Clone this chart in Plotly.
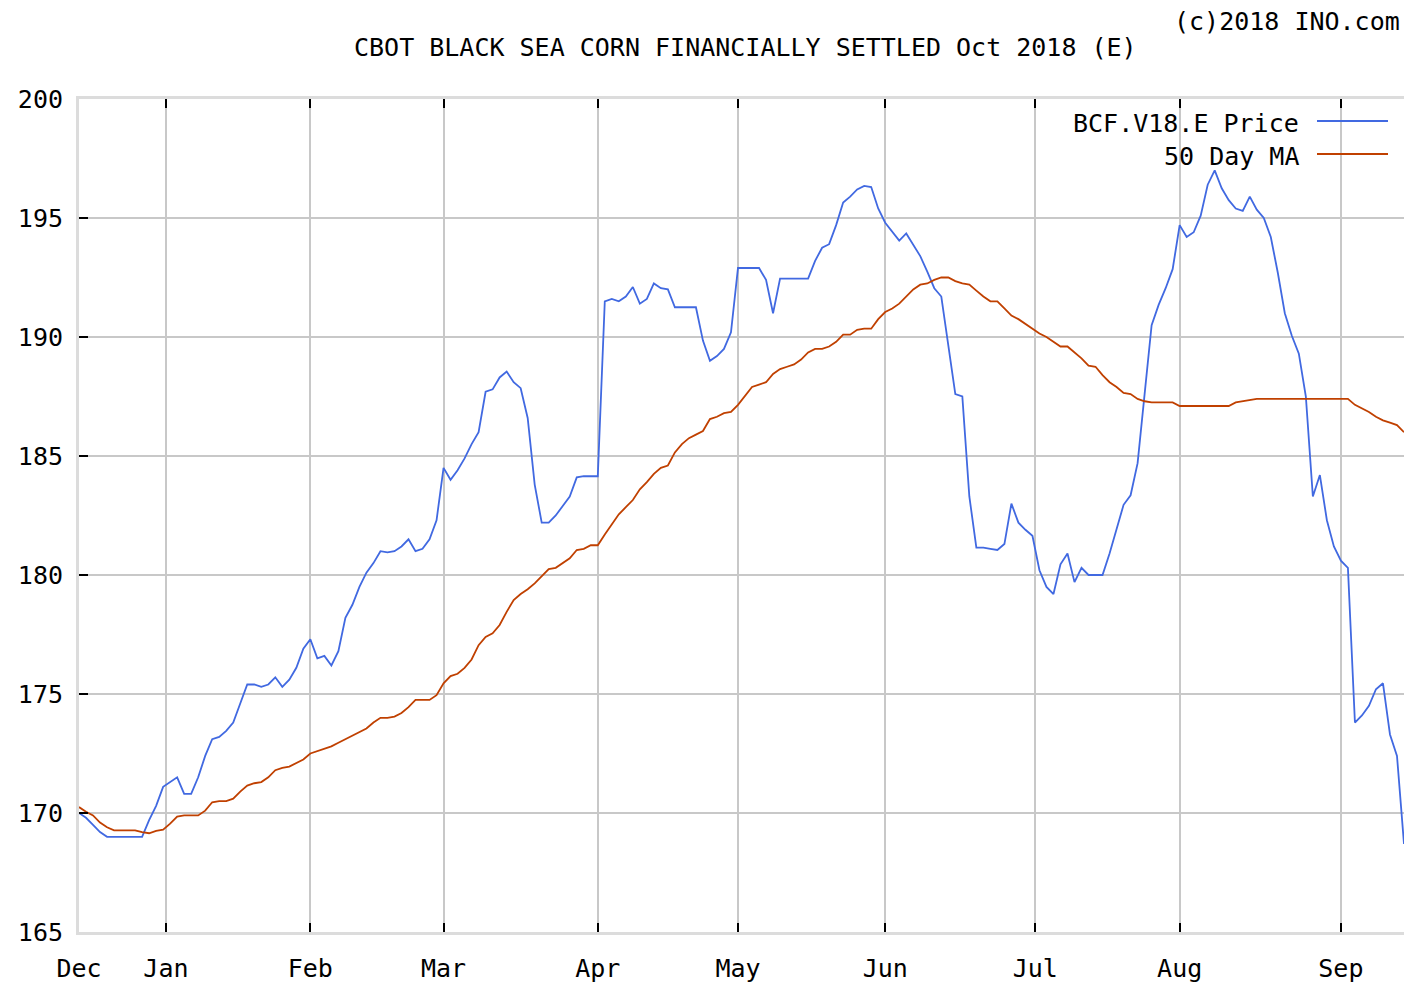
import plotly.graph_objects as go

# Daily settlement prices (trading-day index)
price = [
    170.0, 169.8, 169.5, 169.2, 169.0, 169.0, 169.0, 169.0, 169.0, 169.0,
    169.7, 170.3, 171.1, 171.3, 171.5, 170.8, 170.8, 171.5, 172.4, 173.1,
    173.2, 173.45, 173.8, 174.6, 175.4, 175.4, 175.3, 175.4, 175.7, 175.3,
    175.6, 176.1, 176.9, 177.3, 176.5, 176.6, 176.2, 176.8, 178.2, 178.75,
    179.5, 180.1, 180.5, 181.0, 180.95, 181.0, 181.2, 181.5, 181.0, 181.1,
    181.5, 182.3, 184.5, 184.0, 184.4, 184.9, 185.5, 186.0, 187.7, 187.8,
    188.3, 188.55, 188.1, 187.85, 186.6, 183.8, 182.2, 182.2, 182.5, 182.9,
    183.3, 184.1, 184.15, 184.15, 184.15, 191.5, 191.6, 191.5, 191.7, 192.1,
    191.4, 191.6, 192.25, 192.05, 192.0, 191.25, 191.25, 191.25, 191.25, 189.85,
    189.0, 189.2, 189.5, 190.2, 192.9, 192.9, 192.9, 192.9, 192.4, 191.0,
    192.45, 192.45, 192.45, 192.45, 192.45, 193.2, 193.75, 193.9, 194.7, 195.65,
    195.9, 196.2, 196.35, 196.3, 195.4, 194.8, 194.4, 194.05, 194.35, 193.9,
    193.4, 192.75, 192.05, 191.7, 189.6, 187.6, 187.5, 183.3, 181.15, 181.15,
    181.1, 181.05, 181.3, 183.0, 182.2, 181.9, 181.65, 180.2, 179.5, 179.2,
    180.45, 180.9, 179.7, 180.3, 180.0, 180.0, 180.0, 180.9, 181.9, 182.95,
    183.35, 184.7, 187.6, 190.5, 191.35, 192.05, 192.85, 194.7, 194.2, 194.4,
    195.1, 196.4, 197.0, 196.25, 195.75, 195.4, 195.3, 195.9, 195.35, 195.0,
    194.2, 192.7, 191.0, 190.05, 189.3, 187.5, 183.3, 184.2, 182.3, 181.2,
    180.6, 180.3, 173.8, 174.1, 174.5, 175.2, 175.45, 173.3, 172.4, 168.7,
]

# 50 day moving average
ma50 = [
    170.25, 170.05, 169.9, 169.6, 169.4, 169.27, 169.27, 169.27, 169.27, 169.2,
    169.15, 169.25, 169.3, 169.55, 169.85, 169.9, 169.9, 169.9, 170.1, 170.45,
    170.5, 170.5, 170.6, 170.9, 171.15, 171.25, 171.3, 171.5, 171.8, 171.9,
    171.95, 172.1, 172.25, 172.5, 172.6, 172.7, 172.8, 172.95, 173.1, 173.25,
    173.4, 173.55, 173.8, 174.0, 174.0, 174.05, 174.2, 174.45, 174.75, 174.75,
    174.75, 174.95, 175.45, 175.75, 175.85, 176.1, 176.45, 177.05, 177.4, 177.55,
    177.9, 178.45, 178.95, 179.2, 179.4, 179.65, 179.95, 180.25, 180.3, 180.5,
    180.7, 181.05, 181.1, 181.25, 181.25, 181.7, 182.15, 182.55, 182.85, 183.15,
    183.6, 183.9, 184.25, 184.5, 184.6, 185.15, 185.5, 185.75, 185.9, 186.05,
    186.55, 186.65, 186.8, 186.85, 187.15, 187.55, 187.9, 188.0, 188.1, 188.45,
    188.65, 188.75, 188.85, 189.05, 189.35, 189.5, 189.5, 189.6, 189.8, 190.1,
    190.1, 190.3, 190.35, 190.35, 190.75, 191.05, 191.2, 191.4, 191.7, 192.0,
    192.2, 192.25, 192.4, 192.5, 192.5, 192.35, 192.25, 192.2, 191.95, 191.7,
    191.5, 191.5, 191.2, 190.9, 190.75, 190.55, 190.35, 190.15, 190.0, 189.8,
    189.6, 189.6, 189.35, 189.1, 188.8, 188.75, 188.4, 188.1, 187.9, 187.65,
    187.6, 187.4, 187.3, 187.25, 187.25, 187.25, 187.25, 187.1, 187.1, 187.1,
    187.1, 187.1, 187.1, 187.1, 187.1, 187.25, 187.3, 187.35, 187.4, 187.4,
    187.4, 187.4, 187.4, 187.4, 187.4, 187.4, 187.4, 187.4, 187.4, 187.4,
    187.4, 187.4, 187.15, 187.0, 186.85, 186.65, 186.5, 186.4, 186.3, 186.0,
]

day_index = list(range(len(price)))

# month tick positions (trading-day index of month start) and labels
month_ticks = [0, 12.4, 33, 52, 74, 94, 115, 136.4, 157, 180]
month_labels = ["Dec", "Jan", "Feb", "Mar", "Apr", "May", "Jun", "Jul", "Aug", "Sep"]

y_ticks = [165, 170, 175, 180, 185, 190, 195, 200]

title_text = "CBOT BLACK SEA CORN FINANCIALLY SETTLED Oct 2018 (E)"
copyright_text = "(c)2018 INO.com"
series_names = ["BCF.V18.E Price", "50 Day MA"]

BLUE = "#4169e1"
ORANGE = "#c04000"
FONT = "DejaVu Sans Mono"
FS = 25

fig = go.Figure()
fig.add_trace(go.Scatter(x=day_index, y=price, mode="lines", name=series_names[0],
                         line=dict(color=BLUE, width=1.8)))
fig.add_trace(go.Scatter(x=day_index, y=ma50, mode="lines", name=series_names[1],
                         line=dict(color=ORANGE, width=1.8)))

W, H = 1404, 983
L, R, T, B = 79, 0, 99, 51
pw, ph = W - L - R, H - T - B


def px(xp):
    return (xp - L) / pw


def py(yp):
    return (H - B - yp) / ph


fig.update_layout(
    width=W, height=H,
    margin=dict(l=L, r=R, t=T, b=B, pad=0),
    paper_bgcolor="white", plot_bgcolor="white",
    showlegend=False,
    font=dict(family=FONT, size=FS, color="black"),
    xaxis=dict(
        range=[0, len(price) - 1],
        tickmode="array", tickvals=month_ticks, ticktext=month_labels,
        ticks="inside", ticklen=9, tickwidth=2, tickcolor="black",
        showgrid=True, gridcolor="#c8c8c8", gridwidth=2,
        showline=True, linecolor="#dcdcdc", linewidth=3, mirror="ticks",
        zeroline=False, ticklabelstandoff=12,
        tickfont=dict(family=FONT, size=FS, color="black"),
    ),
    yaxis=dict(
        range=[165, 200],
        tickmode="array", tickvals=y_ticks,
        ticks="inside", ticklen=9, tickwidth=2, tickcolor="black",
        showgrid=True, gridcolor="#c8c8c8", gridwidth=2,
        showline=True, linecolor="#dcdcdc", linewidth=3,
        zeroline=False, ticklabelstandoff=8,
        tickfont=dict(family=FONT, size=FS, color="black"),
    ),
)

# legend box (white, above gridlines, below data) with text on the left of the sample line
fig.add_shape(type="rect", xref="paper", yref="paper", layer="between",
              x0=px(1062), x1=px(1404), y0=py(168), y1=py(106),
              fillcolor="white", line=dict(width=0))
legend_rows = [(121, BLUE), (154, ORANGE)]
for name, (yrow, col) in zip(series_names, legend_rows):
    fig.add_annotation(xref="paper", yref="paper", x=px(1301), y=py(yrow + 2),
                       text=name, showarrow=False, xanchor="right", yanchor="middle",
                       font=dict(family=FONT, size=FS, color="black"))
    fig.add_shape(type="line", xref="paper", yref="paper",
                  x0=px(1317), x1=px(1388), y0=py(yrow), y1=py(yrow),
                  line=dict(color=col, width=2))

fig.add_annotation(xref="paper", yref="paper", x=px(745), y=py(48),
                   text=title_text, showarrow=False, xanchor="center", yanchor="middle",
                   font=dict(family=FONT, size=FS, color="black"))
fig.add_annotation(xref="paper", yref="paper", x=px(1402), y=py(21),
                   text=copyright_text, showarrow=False, xanchor="right", yanchor="middle",
                   font=dict(family=FONT, size=FS, color="black"))

fig.write_html(
    "out.html",
    config={"displayModeBar": False},
    post_script="document.body.style.margin='0';document.body.style.padding='0';"
                "document.documentElement.style.overflow='hidden';",
)
